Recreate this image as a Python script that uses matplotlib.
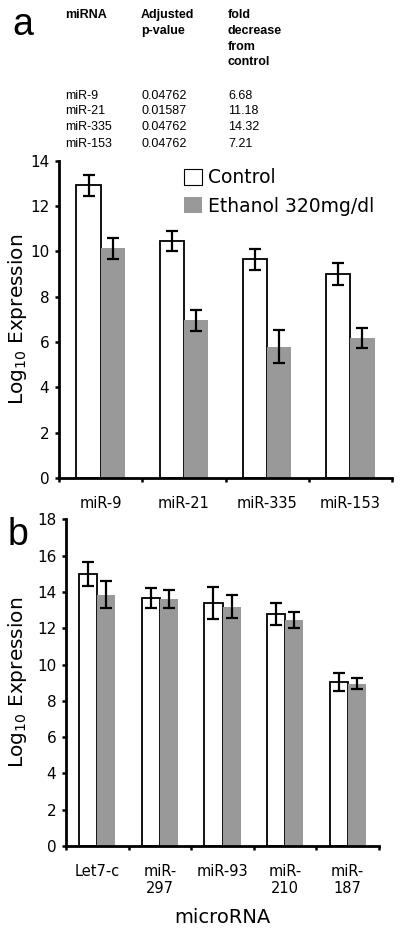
import numpy as np
import matplotlib
matplotlib.use('Agg')
import matplotlib.pyplot as plt
from matplotlib.patches import Patch

# panel a data
mirna_a = ['miR-9', 'miR-21', 'miR-335', 'miR-153']
control_a = [12.92, 10.47, 9.66, 9.0]
control_a_err = [0.45, 0.45, 0.47, 0.48]
ethanol_a = [10.14, 6.96, 5.8, 6.17]
ethanol_a_err = [0.47, 0.47, 0.72, 0.44]

# table in panel a
pvals = ['0.04762', '0.01587', '0.04762', '0.04762']
fold = ['6.68', '11.18', '14.32', '7.21']

# panel b data
mirna_b = ['Let7-c', 'miR-\n297', 'miR-93', 'miR-\n210', 'miR-\n187']
control_b = [14.98, 13.67, 13.4, 12.77, 9.06]
control_b_err = [0.65, 0.55, 0.9, 0.6, 0.5]
ethanol_b = [13.86, 13.6, 13.2, 12.44, 8.95]
ethanol_b_err = [0.75, 0.5, 0.65, 0.45, 0.3]

gray = '#999999'
bw = 0.29
ylab = r'Log$_{10}$ Expression'

plt.rcParams['font.family'] = 'DejaVu Sans'
fig = plt.figure(figsize=(4, 9.3), dpi=100)


def draw(ax, names, c, ce, e, ee, ymax):
    x = np.arange(len(names))
    ax.bar(x - bw/2, c, bw, color='white', edgecolor='black', linewidth=1.3, zorder=2)
    ax.bar(x + bw/2, e, bw, color=gray, edgecolor='none', zorder=2)
    ax.errorbar(x - bw/2, c, yerr=ce, fmt='none', ecolor='black', elinewidth=1.6,
                capsize=4.5, capthick=1.6, zorder=3)
    ax.errorbar(x + bw/2, e, yerr=ee, fmt='none', ecolor='black', elinewidth=1.6,
                capsize=4.5, capthick=1.6, zorder=3)
    ax.set_xlim(-0.5, len(names) - 0.5)
    ax.set_ylim(0, ymax)
    ax.set_yticks(np.arange(0, ymax + 1, 2))
    ax.set_xticks(np.arange(len(names) + 1) - 0.5)
    ax.set_xticklabels([])
    ax.set_xticks(x, minor=True)
    ax.set_xticklabels(names, minor=True, fontsize=10.5)
    ax.tick_params(axis='x', which='minor', length=0, pad=13)
    ax.tick_params(axis='x', which='major', length=3, width=1.8, direction='out')
    ax.tick_params(axis='y', length=3, width=1.8, labelsize=11, pad=4)
    for s in ['top', 'right']:
        ax.spines[s].set_visible(False)
    for s in ['left', 'bottom']:
        ax.spines[s].set_linewidth(2)
    ax.set_ylabel(ylab, fontsize=14.5)


ax1 = fig.add_axes([0.1475, 0.486, 0.8325, 0.341])
draw(ax1, mirna_a, control_a, control_a_err, ethanol_a, ethanol_a_err, 14)
ax1.yaxis.set_label_coords(-0.09, 0.5)

# legend
h = [Patch(facecolor='white', edgecolor='black', linewidth=0.8),
     Patch(facecolor=gray, edgecolor='none')]
ax1.legend(h, ['Control', 'Ethanol 320mg/dl'], loc='upper left',
           bbox_to_anchor=(0.325, 1.03), frameon=False, fontsize=13.5,
           handlelength=0.95, handleheight=0.95, handletextpad=0.3, labelspacing=0.5)

ax2 = fig.add_axes([0.165, 0.0903, 0.7825, 0.3512])
draw(ax2, mirna_b, control_b, control_b_err, ethanol_b, ethanol_b_err, 18)
ax2.yaxis.set_label_coords(-0.117, 0.5)
ax2.set_xlabel('microRNA', fontsize=14, labelpad=8)

# panel letters
fig.text(0.03, 0.962, 'a', fontsize=27, family='Liberation Sans', va='baseline')
fig.text(0.018, 0.414, 'b', fontsize=27, family='Liberation Sans', va='baseline')

# table
tf = dict(family='Liberation Sans', fontsize=9, va='center')
cols = [65/400, 141/400, 228/400]
hdr = [['miRNA'], ['Adjusted', 'p-value'], ['fold', 'decrease', 'from', 'control']]
hy = [15, 31, 47, 62]
for cx, lines in zip(cols, hdr):
    for j, t in enumerate(lines):
        fig.text(cx, 1 - hy[j]/930, t, fontweight='bold', **tf)
ry = [96, 111, 127, 144]
for i in range(len(mirna_a)):
    fig.text(cols[0], 1 - ry[i]/930, mirna_a[i], **tf)
    fig.text(cols[1], 1 - ry[i]/930, pvals[i], **tf)
    fig.text(cols[2], 1 - ry[i]/930, fold[i], **tf)

fig.savefig('out.png', dpi=100)
